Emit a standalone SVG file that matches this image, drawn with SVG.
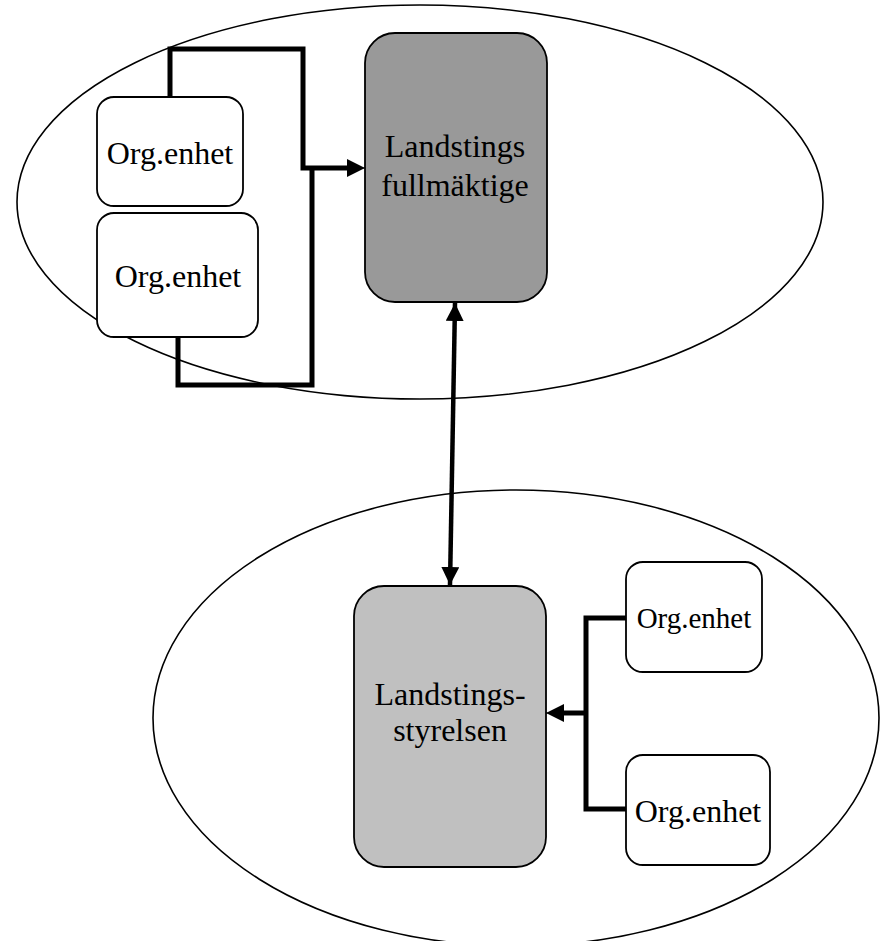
<svg xmlns="http://www.w3.org/2000/svg" width="882" height="941" viewBox="0 0 882 941">
<style>
.bg{fill:#ffffff}
.ell{fill:none;stroke:#000;stroke-width:1.6}
.box{fill:#ffffff;stroke:#000;stroke-width:1.8}
.dark{fill:#999999;stroke:#000;stroke-width:1.8}
.light{fill:#c0c0c0;stroke:#000;stroke-width:1.8}
.lbl{font-family:"Liberation Serif","Times New Roman",serif;font-size:32px;fill:#000;text-anchor:middle}
.con{fill:none;stroke:#000;stroke-width:5;stroke-linejoin:miter;stroke-linecap:butt}
.arr{fill:none;stroke:#000;stroke-width:4.5}
</style>
<defs>
<marker id="ah" markerUnits="userSpaceOnUse" markerWidth="18" markerHeight="18" viewBox="0 0 18 18" refX="18" refY="9" orient="auto-start-reverse">
<path d="M0,0 L18,9 L0,18 Z" fill="#000"/>
</marker>
</defs>
<rect class="bg" x="0" y="0" width="882" height="941"/>
<g id="regions">
<ellipse class="ell" cx="420" cy="202" rx="403" ry="197"/>
<ellipse class="ell" cx="516" cy="718" rx="363" ry="228"/>
</g>
<g id="connectors">
<path class="con" d="M170,97 V49 H303 V168 H349"/>
<path class="con" d="M178,337 V385 H312 V166"/>
<line x1="347" y1="168" x2="365" y2="168" stroke="#000" stroke-width="1" marker-end="url(#ah)"/>
<line class="arr" x1="455" y1="303" x2="450" y2="585" marker-start="url(#ah)" marker-end="url(#ah)"/>
<path class="con" d="M626,618 H586 V809 H626"/>
<path class="con" d="M588,713 H561"/>
<line x1="563" y1="713" x2="546" y2="713" stroke="#000" stroke-width="1" marker-end="url(#ah)"/>
</g>
<g id="fullmaktige">
<rect class="dark" x="365" y="33" width="182" height="269" rx="30" ry="30"/>
<text class="lbl" x="455" y="157">Landstings</text>
<text class="lbl" x="455" y="196">fullmäktige</text>
</g>
<g id="org1">
<rect class="box" x="97" y="97" width="146" height="109" rx="17" ry="17"/>
<text class="lbl" x="170" y="164">Org.enhet</text>
</g>
<g id="org2">
<rect class="box" x="97" y="213" width="161" height="124" rx="17" ry="17"/>
<text class="lbl" x="178" y="287">Org.enhet</text>
</g>
<g id="styrelsen">
<rect class="light" x="354" y="586" width="192" height="281" rx="30" ry="30"/>
<text class="lbl" x="450" y="705">Landstings-</text>
<text class="lbl" x="450" y="741">styrelsen</text>
</g>
<g id="org3">
<rect class="box" x="626" y="562" width="136" height="110" rx="17" ry="17"/>
<text class="lbl" x="694" y="628" style="font-size:29px">Org.enhet</text>
</g>
<g id="org4">
<rect class="box" x="626" y="755" width="144" height="110" rx="17" ry="17"/>
<text class="lbl" x="698" y="822">Org.enhet</text>
</g>
</svg>
